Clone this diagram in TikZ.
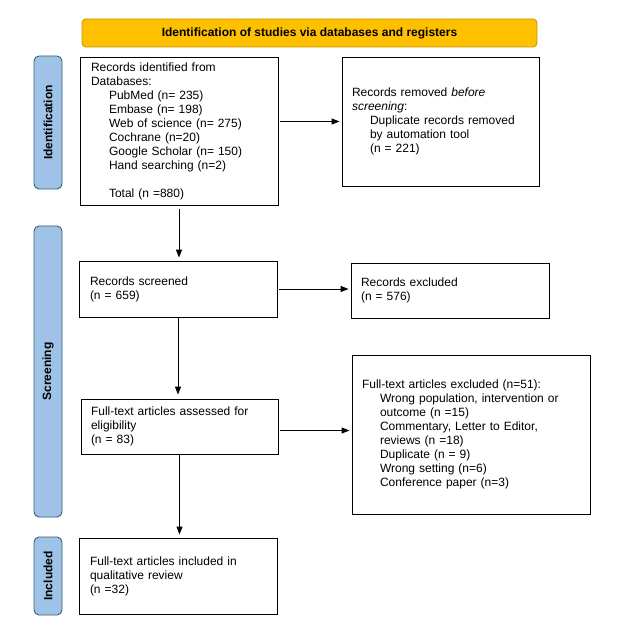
\documentclass[tikz,border=0pt]{standalone}
\usepackage{fontspec}
\setmainfont{Liberation Sans}
\usetikzlibrary{arrows.meta,calc}
\definecolor{bannerfill}{HTML}{FFC000}
\definecolor{bannerdraw}{HTML}{C49A00}
\definecolor{sidefill}{HTML}{9FC3E7}
\definecolor{sidedraw}{HTML}{3A5F80}
\newcommand\myind{\hspace*{18pt}}
\begin{document}
\begin{tikzpicture}[x=1pt,y=-1pt,
  box/.style={draw=black, line width=0.9pt, align=left, inner xsep=11pt, inner ysep=0pt,
    font=\fontsize{12}{14}\selectfont},
  side/.style={draw=sidedraw, fill=sidefill, line width=0.9pt, rounded corners=5pt,
    inner sep=0pt, rotate=90, minimum height=28pt, font=\fontsize{12}{14}\selectfont\bfseries},
  banner/.style={draw=bannerdraw, fill=bannerfill, line width=0.9pt, rounded corners=4pt,
    inner sep=0pt, font=\fontsize{12}{14}\selectfont\bfseries},
  arr/.style={-{Triangle[length=8pt,width=6pt]}, line width=0.9pt}]
\fill[white] (0,0) rectangle (639,628);
\useasboundingbox (0,0) rectangle (639,628);

\node[banner, minimum width=455pt, minimum height=28pt] (ban) at (309.5,33)
  {Identification of studies via databases and registers};

\node[side, minimum width=133pt] (sid) at (48,122.5) {Identification};
\node[side, minimum width=291pt] (sscr) at (48,371.5) {Screening};
\node[side, minimum width=78pt] (sinc) at (48,576) {Included};

\node[box, text width=176pt, minimum height=148pt] (b1) at (179,131)
  {Records identified from\\
   Databases:\\
   \myind PubMed (n= 235)\\
   \myind Embase (n= 198)\\
   \myind Web of science (n= 275)\\
   \myind Cochrane (n=20)\\
   \myind Google Scholar (n= 150)\\
   \myind Hand searching (n=2)\\[14pt]
   \myind Total (n =880)};

\node[box, inner xsep=10pt, text width=177pt, minimum height=129pt] (b2) at (440.5,121.5)
  {Records removed \textit{before}\\
   \textit{screening}:\\
   \myind Duplicate records removed\\
   \myind by automation tool\\
   \myind (n = 221)};

\node[box, text width=176pt, minimum height=56pt] (b3) at (178,289)
  {Records screened\\(n = 659)};

\node[box, inner xsep=10pt, text width=178pt, minimum height=55pt] (b4) at (450,290.5)
  {Records excluded\\(n = 576)};

\node[box, inner xsep=10pt, text width=177pt, minimum height=55pt] (b5) at (179.5,426.5)
  {Full-text articles assessed for\\eligibility\\(n = 83)};

\node[box, inner xsep=10pt, text width=218pt, minimum height=159pt] (b6) at (471,434.5)
  {Full-text articles excluded (n=51):\\
   \myind Wrong population, intervention or\\
   \myind outcome (n =15)\\
   \myind Commentary, Letter to Editor,\\
   \myind reviews (n =18)\\
   \myind Duplicate (n = 9)\\
   \myind Wrong setting (n=6)\\
   \myind Conference paper (n=3)};

\node[box, text width=176pt, minimum height=76pt] (b7) at (178,576)
  {Full-text articles included in\\qualitative review\\(n =32)};

\draw[arr] ([xshift=2pt]b1.east |- b2.west) -- ([xshift=-2pt]b2.west);
\draw[arr] ([yshift=-4pt]b1.south) -- ([yshift=3pt]b1.south |- b3.north);
\draw[arr] ([xshift=2pt]b3.east) -- ([xshift=-2pt]b3.east -| b4.west);
\draw[arr] (b3.south) -- ([yshift=4pt]b3.south |- b5.north);
\draw[arr] ([xshift=2pt,yshift=-4pt]b5.east) -- ([xshift=-2pt,yshift=-4pt]b5.east -| b6.west);
\draw[arr] ([yshift=-1pt]b5.south) -- ([yshift=3pt]b5.south |- b7.north);
\end{tikzpicture}
\end{document}
